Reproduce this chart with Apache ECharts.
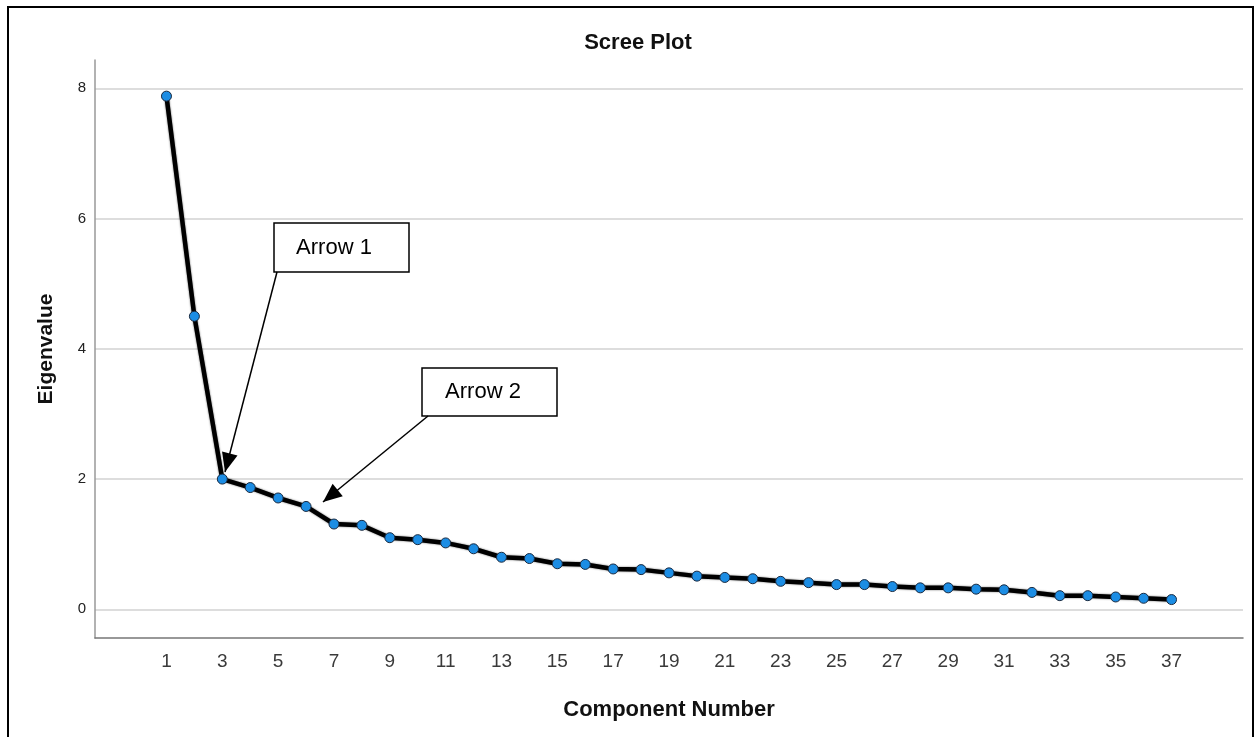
<!DOCTYPE html>
<html>
<head>
<meta charset="utf-8">
<script src="https://cdn.jsdelivr.net/npm/echarts@6/dist/echarts.min.js"></script>
<style>
html,body{margin:0;padding:0;background:#fff;}
#chart{width:1259px;height:737px;}
</style>
</head>
<body>
<div id="chart"></div>
<script>
// ---- data ----
const components = [1,2,3,4,5,6,7,8,9,10,11,12,13,14,15,16,17,18,19,20,21,22,23,24,25,26,27,28,29,30,31,32,33,34,35,36,37];
const eigenvalues = [7.88,4.50,2.00,1.87,1.71,1.58,1.31,1.29,1.10,1.07,1.02,0.93,0.80,0.78,0.70,0.69,0.62,0.61,0.56,0.51,0.49,0.47,0.43,0.41,0.38,0.38,0.35,0.33,0.33,0.31,0.30,0.26,0.21,0.21,0.19,0.17,0.15];
const xTickLabels = [1,3,5,7,9,11,13,15,17,19,21,23,25,27,29,31,33,35,37];
const yTickLabels = [0,2,4,6,8];
const titleText = 'Scree Plot';
const xAxisTitle = 'Component Number';
const yAxisTitle = 'Eigenvalue';
const annotationTexts = ['Arrow 1', 'Arrow 2'];

const FONT = '"Liberation Sans", Arial, sans-serif';
const chart = echarts.init(document.getElementById('chart'), null, {renderer: 'canvas'});

function arrowHead(tipX, tipY, fromX, fromY, len, half) {
  const dx = tipX - fromX, dy = tipY - fromY;
  const d = Math.sqrt(dx*dx + dy*dy);
  const ux = dx / d, uy = dy / d;
  const bx = tipX - ux*len, by = tipY - uy*len;
  return [[tipX, tipY], [bx - uy*half, by + ux*half], [bx + uy*half, by - ux*half]];
}

const a1 = {box:[274,223,135,49], text:[334,248], from:[277,272], tip:[225,472]};
const a2 = {box:[422,368,135,48], text:[483,392], from:[428,416], tip:[323,502]};

function annotation(a, label) {
  return [
    {type:'rect', shape:{x:a.box[0], y:a.box[1], width:a.box[2], height:a.box[3]},
     style:{fill:'#fff', stroke:'#000', lineWidth:1.5}, z:10},
    {type:'text', x:a.text[0], y:a.text[1],
     style:{text:label, fill:'#000', font:'22px ' + FONT, align:'center', verticalAlign:'middle'}, z:11},
    {type:'line', shape:{x1:a.from[0], y1:a.from[1], x2:a.tip[0], y2:a.tip[1]},
     style:{stroke:'#000', lineWidth:1.5}, z:10},
    {type:'polygon', shape:{points: arrowHead(a.tip[0], a.tip[1], a.from[0], a.from[1], 19, 8)},
     style:{fill:'#000'}, z:10}
  ];
}

const option = {
  backgroundColor: '#fff',
  animation: false,
  title: {
    text: titleText,
    left: 633, top: 27, textAlign: 'center',
    textStyle: {fontFamily: FONT, fontSize: 22, fontWeight: 'bold', color: '#111'}
  },
  grid: {left: 95, right: 16, top: 60, bottom: 99, containLabel: false},
  xAxis: {
    type: 'value',
    min: -1.56, max: 39.56,
    name: xAxisTitle,
    nameLocation: 'middle',
    nameGap: 61,
    nameTextStyle: {fontFamily: FONT, fontSize: 22, fontWeight: 'bold', color: '#111'},
    axisLine: {show: true, onZero: false, lineStyle: {color: '#777', width: 1.5}},
    axisTick: {show: false, customValues: xTickLabels},
    axisLabel: {customValues: xTickLabels, fontFamily: FONT, fontSize: 19, color: '#3a3a3a', margin: 14},
    splitLine: {show: false}
  },
  yAxis: {
    type: 'value',
    min: -0.44, max: 8.435,
    name: yAxisTitle,
    nameLocation: 'middle',
    nameGap: 38,
    nameRotate: 90,
    nameTextStyle: {fontFamily: FONT, fontSize: 21, fontWeight: 'bold', color: '#111'},
    axisLine: {show: true, onZero: false, lineStyle: {color: '#999', width: 1.5}},
    axisTick: {show: false, customValues: yTickLabels},
    axisLabel: {customValues: yTickLabels, fontFamily: FONT, fontSize: 15, color: '#222', margin: 9},
    splitLine: {show: true, lineStyle: {color: '#d2d2d2', width: 1.5}}
  },
  series: [{
    type: 'line',
    data: components.map((c, i) => [c, eigenvalues[i]]),
    symbol: 'circle',
    symbolSize: 10,
    lineStyle: {color: '#000', width: 4.5, shadowBlur: 2, shadowColor: 'rgba(0,0,0,0.6)'},
    itemStyle: {color: '#1c8de4', borderColor: '#1a2a40', borderWidth: 1},
    z: 5
  }],
  graphic: [
    {type:'rect', shape:{x:8, y:7, width:1245, height:740},
     style:{fill:'none', stroke:'#000', lineWidth:2}, z:20}
  ].concat(annotation(a1, annotationTexts[0]), annotation(a2, annotationTexts[1]))
};
chart.setOption(option);
</script>
</body>
</html>
